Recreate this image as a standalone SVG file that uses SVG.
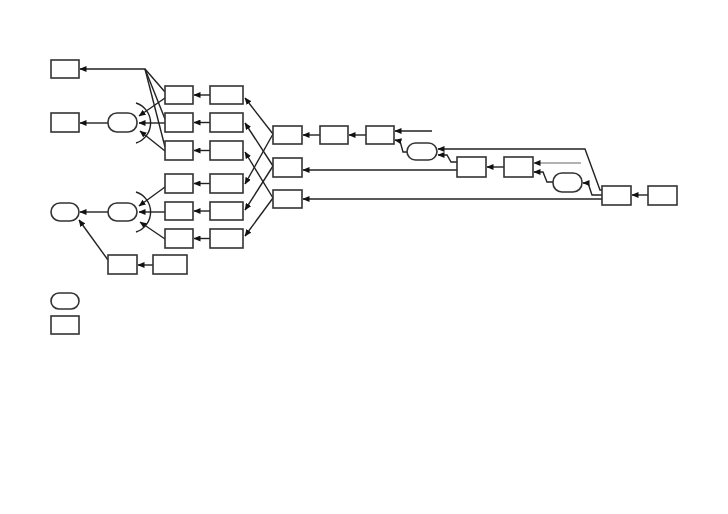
<svg xmlns="http://www.w3.org/2000/svg" width="728" height="514" viewBox="0 0 728 514">
<style>
.n{fill:#fff;stroke:#333;stroke-width:1.6}
.c{fill:none;stroke:#222;stroke-width:1.4}
.g{fill:none;stroke:#666;stroke-width:1.2}
.a{marker-end:url(#ah)}
</style>
<defs>
<marker id="ah" markerWidth="7" markerHeight="6" refX="6.5" refY="3" orient="auto" markerUnits="userSpaceOnUse">
<path d="M0,0 L7,3 L0,6 z" fill="#111"/>
</marker>
</defs>
<rect width="728" height="514" fill="#fff"/>
<g id="connectors">
<path class="c a" d="M210,95 L194,95"/>
<path class="c a" d="M210,122.5 L194,122.5"/>
<path class="c a" d="M210,150.5 L194,150.5"/>
<path class="c a" d="M210,183.5 L194,183.5"/>
<path class="c a" d="M210,211 L194,211"/>
<path class="c a" d="M210,238.5 L194,238.5"/>
<path class="c a" d="M165,92 L145,69 L80,69"/>
<path class="c" d="M165,119 L145,69"/>
<path class="c" d="M165,147 L145,69"/>
<path class="c a" d="M165,98 L139,116"/>
<path class="c a" d="M165,123 L139,123"/>
<path class="c a" d="M165,151 L140,131"/>
<path class="c" d="M136,103 A21,21 0 0 1 136,143"/>
<path class="c a" d="M108,123 L80,123"/>
<path class="c a" d="M165,187 L139,206"/>
<path class="c a" d="M165,212 L139,212"/>
<path class="c a" d="M165,239 L140,222"/>
<path class="c" d="M136,192 A21,21 0 0 1 136,232"/>
<path class="c a" d="M108,212 L80,212"/>
<path class="c a" d="M108,260 L79,220"/>
<path class="c a" d="M153,265 L138,265"/>
<path class="c a" d="M273,134 L245,98"/>
<path class="c a" d="M273,134 L245,184"/>
<path class="c a" d="M273,166 L245,123"/>
<path class="c a" d="M273,166 L245,210"/>
<path class="c a" d="M273,198 L245,152"/>
<path class="c a" d="M273,198 L245,236"/>
<path class="c a" d="M320,135 L303,135"/>
<path class="c a" d="M366,135 L349,135"/>
<path class="c a" d="M432,131 L395,131"/>
<path class="c a" d="M407,152 L403,152 L400,141 L395,140"/>
<path class="c a" d="M602,190 L600,190 L585,149 L438,149"/>
<path class="c a" d="M457,162 L451,162 L447,155 L438,155"/>
<path class="c a" d="M457,170 L303,170"/>
<path class="c a" d="M504,167 L487,167"/>
<path class="g a" d="M581,163 L534,163"/>
<path class="c a" d="M553,182 L547,182 L543,172 L534,172"/>
<path class="c a" d="M602,195 L592,195 L588,183 L583,183"/>
<path class="c a" d="M602,199 L303,199"/>
<path class="c a" d="M648,195 L632,195"/>
</g>
<g id="nA"><rect class="n" x="51" y="60" width="28" height="18"/></g>
<g id="nB"><rect class="n" x="51" y="113" width="28" height="19"/></g>
<g id="o1"><rect class="n" x="108" y="113" width="29" height="19" rx="9"/></g>
<g id="o2"><rect class="n" x="51" y="203" width="28" height="18" rx="9"/></g>
<g id="o3"><rect class="n" x="108" y="203" width="29" height="18" rx="9"/></g>
<g id="c1_1"><rect class="n" x="165" y="86" width="28" height="18"/></g>
<g id="c1_2"><rect class="n" x="165" y="113" width="28" height="19"/></g>
<g id="c1_3"><rect class="n" x="165" y="141" width="28" height="19"/></g>
<g id="c1_4"><rect class="n" x="165" y="174" width="28" height="19"/></g>
<g id="c1_5"><rect class="n" x="165" y="202" width="28" height="18"/></g>
<g id="c1_6"><rect class="n" x="165" y="229" width="28" height="19"/></g>
<g id="c2_1"><rect class="n" x="210" y="86" width="33" height="18"/></g>
<g id="c2_2"><rect class="n" x="210" y="113" width="33" height="19"/></g>
<g id="c2_3"><rect class="n" x="210" y="141" width="33" height="19"/></g>
<g id="c2_4"><rect class="n" x="210" y="174" width="33" height="19"/></g>
<g id="c2_5"><rect class="n" x="210" y="202" width="33" height="18"/></g>
<g id="c2_6"><rect class="n" x="210" y="229" width="33" height="19"/></g>
<g id="bL1"><rect class="n" x="108" y="255" width="29" height="19"/></g>
<g id="bL2"><rect class="n" x="153" y="255" width="34" height="19"/></g>
<g id="c3_1"><rect class="n" x="273" y="126" width="29" height="18"/></g>
<g id="c3_2"><rect class="n" x="273" y="158" width="29" height="19"/></g>
<g id="c3_3"><rect class="n" x="273" y="190" width="29" height="18"/></g>
<g id="D"><rect class="n" x="320" y="126" width="28" height="18"/></g>
<g id="E"><rect class="n" x="366" y="126" width="28" height="18"/></g>
<g id="o4"><rect class="n" x="407" y="143" width="30" height="17" rx="8.5"/></g>
<g id="F"><rect class="n" x="457" y="157" width="29" height="20"/></g>
<g id="G"><rect class="n" x="504" y="157" width="29" height="20"/></g>
<g id="o5"><rect class="n" x="553" y="173" width="29" height="19" rx="9"/></g>
<g id="H"><rect class="n" x="602" y="186" width="29" height="19"/></g>
<g id="I"><rect class="n" x="648" y="186" width="29" height="19"/></g>
<g id="legend_oval"><rect class="n" x="51" y="293" width="28" height="16" rx="8"/></g>
<g id="legend_rect"><rect class="n" x="51" y="316" width="28" height="18"/></g>
</svg>
